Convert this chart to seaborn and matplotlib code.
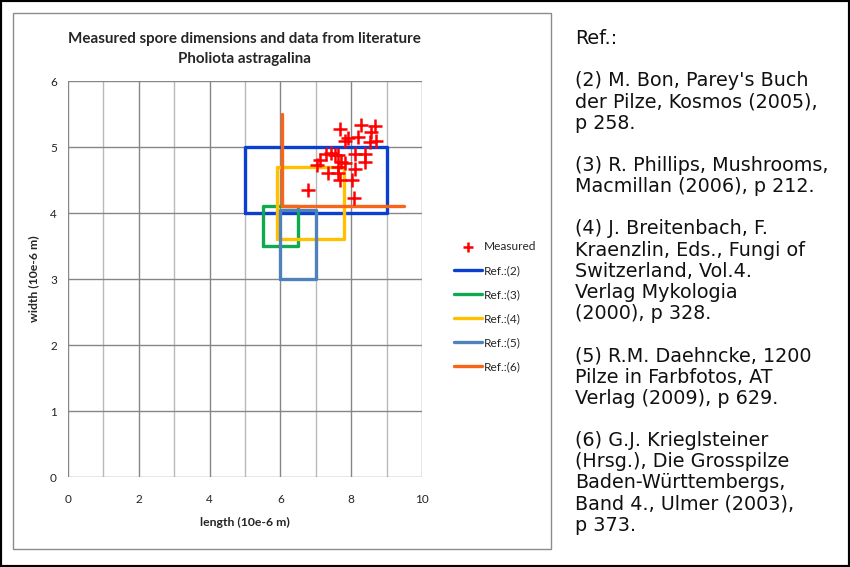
"""
Spore dimensions chart: measured values vs literature ranges
"""
import numpy as np
import matplotlib.pyplot as plt
import matplotlib.patches as mpatches
import seaborn as sns

# measured spores (length, width) in 10e-6 m
meas_len = [7.68, 8.27, 8.66, 8.57, 7.91, 8.19, 7.82, 8.52, 8.71, 7.30,
            7.44, 7.53, 7.63, 8.10, 8.38, 7.11, 7.72, 7.82, 8.38, 7.02,
            7.63, 8.10, 7.34, 7.63, 7.68, 8.01, 6.78, 8.08]
meas_wid = [5.28, 5.34, 5.32, 5.22, 5.13, 5.15, 5.09, 5.08, 5.09, 4.90,
            4.91, 4.88, 4.88, 4.90, 4.90, 4.80, 4.78, 4.76, 4.78, 4.72,
            4.70, 4.66, 4.60, 4.60, 4.50, 4.50, 4.35, 4.23]

# literature ranges: length min/max, width min/max
ref_names = ['Ref.:(2)', 'Ref.:(3)', 'Ref.:(4)', 'Ref.:(5)']
ref_len_min = [5.0, 5.5, 5.9, 6.0]
ref_len_max = [9.0, 6.5, 7.8, 7.0]
ref_wid_min = [4.0, 3.5, 3.6, 3.0]
ref_wid_max = [5.0, 4.1, 4.7, 4.05]
ref_colors = ['#0A3FD2', '#10AA4E', '#FFC000', '#4F81BD']

# Ref (6): only length range at min width, and width range at min length
ref6_len = [6.05, 9.5]
ref6_wid = [4.1, 5.5]
ref6_color = '#FA6416'

references = (
    "Ref.:\n\n"
    "(2) M. Bon, Parey's Buch\nder Pilze, Kosmos (2005),\np 258.\n\n"
    "(3) R. Phillips, Mushrooms,\nMacmillan (2006), p 212.\n\n"
    "(4) J. Breitenbach, F.\nKraenzlin, Eds., Fungi of\nSwitzerland, Vol.4.\n"
    "Verlag Mykologia\n(2000), p 328.\n\n"
    "(5) R.M. Daehncke, 1200\nPilze in Farbfotos, AT\nVerlag (2009), p 629.\n\n"
    "(6) G.J. Krieglsteiner\n(Hrsg.), Die Grosspilze\nBaden-Württembergs,\n"
    "Band 4., Ulmer (2003),\np 373."
)

W, H = 850, 567
sns.set_style('white')
plt.rcParams['font.family'] = ['Lato', 'DejaVu Sans']

fig = plt.figure(figsize=(W / 100, H / 100), dpi=100)
ax = fig.add_axes([68 / W, 1 - 477 / H, 354 / W, 396 / H])

# grid
for xv in range(0, 11):
    ax.axvline(xv, color='#868686' if xv % 2 == 0 else '#b9b9b9', lw=1, zorder=0)
for yv in range(0, 7):
    ax.axhline(yv, color='#868686', lw=1, zorder=0)

# literature boxes
for name, x0, x1, y0, y1, c in zip(ref_names, ref_len_min, ref_len_max,
                                    ref_wid_min, ref_wid_max, ref_colors):
    bx = [x0, x1, x1, x0, x0]
    by = [y0, y0, y1, y1, y0]
    sns.lineplot(x=bx, y=by, sort=False, estimator=None, color=c, lw=2.4,
                 ax=ax, label=name, zorder=2)

sns.lineplot(x=[ref6_len[0], ref6_len[0], ref6_len[1]],
             y=[ref6_wid[1], ref6_wid[0], ref6_wid[0]],
             sort=False, estimator=None, color=ref6_color, lw=2.4,
             ax=ax, label='Ref.:(6)', zorder=2)

sns.scatterplot(x=meas_len, y=meas_wid, marker='+', s=110, color='#FF0000',
                linewidth=1.8, ax=ax, label='Measured', zorder=3)

ax.set_xlim(0, 10)
ax.set_ylim(0, 6)
ax.set_xticks(range(0, 11, 2))
ax.set_yticks(range(0, 7))
for s in ax.spines.values():
    s.set_visible(False)
ax.tick_params(axis='both', length=5, width=1, color='#868686', direction='out',
               labelsize=8.5, pad=3, labelcolor='#222222')
ax.tick_params(axis='x', pad=7)
ax.set_xlabel('length (10e-6 m)', fontsize=8.8, fontweight='bold', labelpad=9)
ax.set_ylabel('width (10e-6 m)', fontsize=8.8, fontweight='bold', labelpad=8)

fig.text(244 / W, 1 - 49 / H, 'Measured spore dimensions and data from literature\nPholiota astragalina',
         ha='center', va='center', fontsize=10.9, fontweight='bold', linespacing=1.6)

# legend: Measured first, then references
handles, labels = ax.get_legend_handles_labels()
order = [labels.index('Measured')] + [labels.index(n) for n in ref_names + ['Ref.:(6)']]
ax.legend([handles[i] for i in order], [labels[i] for i in order],
          loc='upper left', bbox_to_anchor=(443 / W, 1 - 230 / H),
          bbox_transform=fig.transFigure, frameon=False, fontsize=8.6,
          handlelength=2.4, handletextpad=0.1, labelspacing=1.1, markerscale=0.7)

# chart frame and outer border
fig.patches.append(mpatches.Rectangle((13 / W, 1 - 549 / H), 538 / W, 536 / H,
                                      transform=fig.transFigure, fill=False,
                                      edgecolor='#8c8c8c', lw=1))
fig.patches.append(mpatches.Rectangle((0, 0), 1, 1, transform=fig.transFigure,
                                      fill=False, edgecolor='black', lw=3))

fig.text(575 / W, 1 - 29 / H, references, ha='left', va='top', fontsize=13.8,
         family='DejaVu Sans', linespacing=1.144, color='#111111')

fig.savefig('out.png', dpi=100)
